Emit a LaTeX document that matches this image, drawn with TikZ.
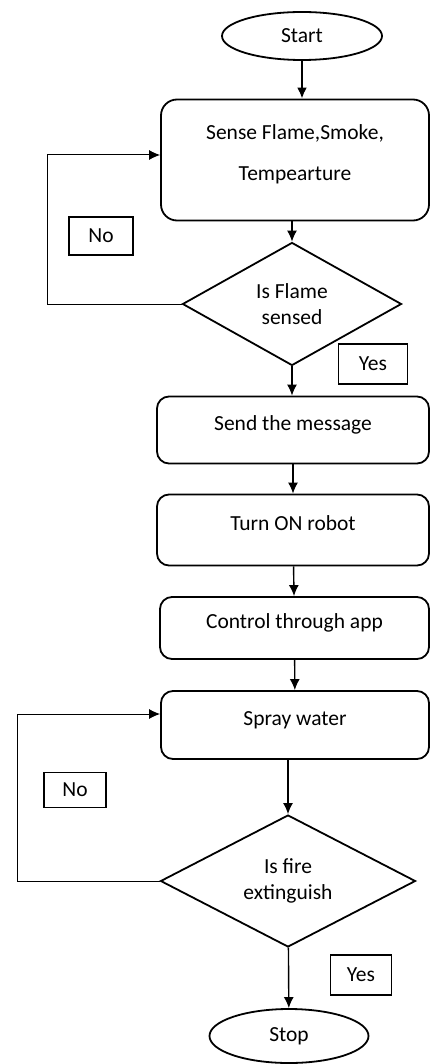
\documentclass[tikz,border=0pt]{standalone}
\usepackage{fontspec}
\setmainfont{Carlito}
\usepackage{tikz}
\usetikzlibrary{arrows.meta,shapes.geometric}

\begin{document}
\begin{tikzpicture}[x=1pt,y=-1pt,>={Latex[length=11pt,width=10pt]},
  font=\fontsize{21.5}{26}\selectfont,
  every node/.style={inner sep=0pt},
  endpoint/.style={draw,line width=1.8pt,ellipse},
  stepbox/.style={draw,line width=1.8pt,rounded corners=12pt,text height=6pt,text depth=6pt},
  query/.style={draw,line width=1.8pt,diamond,aspect=1.8,align=center},
  tagbox/.style={draw,line width=1.2pt},
  flow/.style={->,line width=1.4pt},
  loopback/.style={->,line width=1pt}]
\useasboundingbox (0,0) rectangle (430,1064);
% ---- main column ----
\node[endpoint,minimum width=160pt,minimum height=48pt] (start) at (302,36) {Start};
\node[stepbox,align=center,text height=41pt,text depth=0pt,rounded corners=16pt,
  minimum width=268pt,minimum height=121pt] (sense) at (295,160) {Sense Flame,Smoke,\\[15pt]Tempearture};
\node[query,minimum width=219pt,minimum height=123pt] (flame) at (292,304) {Is Flame\\sensed};
\node[stepbox,minimum width=272pt,minimum height=67pt] (send) at (293,430) {Send the message};
\node[stepbox,minimum width=272pt,minimum height=71pt] (turn) at (293,530) {Turn ON robot};
\node[stepbox,minimum width=269pt,minimum height=62pt] (control) at (294.5,628) {Control through app};
\node[stepbox,minimum width=268pt,minimum height=68pt] (spray) at (295,725) {Spray water};
\node[query,minimum width=255pt,minimum height=132pt] (fire) at (288,881) {Is fire\\extinguish};
\node[endpoint,minimum width=159pt,minimum height=54pt] (stop) at (289,1036) {Stop};
% ---- yes / no tags ----
\node[tagbox,minimum width=64pt,minimum height=38pt] (no1) at (101,236) {No};
\node[tagbox,minimum width=69pt,minimum height=40pt] (yes1) at (373,364) {Yes};
\node[tagbox,minimum width=62pt,minimum height=35pt] (no2) at (75,790) {No};
\node[tagbox,minimum width=61pt,minimum height=40pt] (yes2) at (361,975) {Yes};
% ---- connectors ----
\coordinate (backA) at (47,155);
\coordinate (backB) at (17,714);
\draw[flow,line width=2.6pt] (start.south) -- (start.south |- sense.north);
\draw[flow] (sense.south -| flame) -- (flame.north);
\draw[flow] (flame.south) -- (flame.south |- send.north);
\draw[flow] (send) -- (turn);
\draw[flow] (turn) -- (control);
\draw[flow] (control) -- (spray);
\draw[flow] (spray.south -| fire) -- (fire.north);
\draw[flow] (fire) -- (stop);
% loops back on No
\draw[loopback] (flame.west) -| (backA) -- (backA -| sense.west);
\draw[loopback] (fire.west) -| (backB) -- (backB -| spray.west);
\end{tikzpicture}
\end{document}
